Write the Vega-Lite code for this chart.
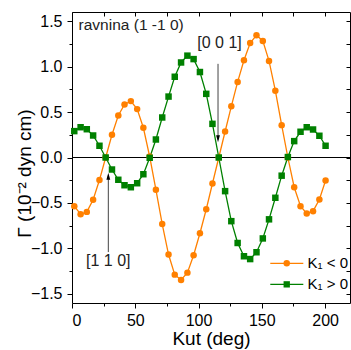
{
  "$schema": "https://vega.github.io/schema/vega-lite/v6.json",
  "width": 278,
  "height": 291,
  "autosize": {"type": "none"},
  "padding": {"left": 72, "top": 12, "right": 1, "bottom": 47},
  "config": {
    "font": "Liberation Sans",
    "view": {"stroke": null},
    "axis": {"grid": false, "domainColor": "black", "tickColor": "black", "labelColor": "black", "titleColor": "black", "domainWidth": 1, "tickWidth": 1, "labelFont": "Liberation Sans", "titleFont": "Liberation Sans"}
  },
  "datasets": {
    "main": [
      {"deg": 1.8, "val": -0.535, "s": "K₁ < 0"},
      {"deg": 6.8, "val": -0.624, "s": "K₁ < 0"},
      {"deg": 11.7, "val": -0.598, "s": "K₁ < 0"},
      {"deg": 16.7, "val": -0.464, "s": "K₁ < 0"},
      {"deg": 21.7, "val": -0.248, "s": "K₁ < 0"},
      {"deg": 26.6, "val": 0.0, "s": "K₁ < 0"},
      {"deg": 31.6, "val": 0.25, "s": "K₁ < 0"},
      {"deg": 36.6, "val": 0.462, "s": "K₁ < 0"},
      {"deg": 41.5, "val": 0.583, "s": "K₁ < 0"},
      {"deg": 46.5, "val": 0.62, "s": "K₁ < 0"},
      {"deg": 51.5, "val": 0.532, "s": "K₁ < 0"},
      {"deg": 56.4, "val": 0.327, "s": "K₁ < 0"},
      {"deg": 61.4, "val": 0.01, "s": "K₁ < 0"},
      {"deg": 66.3, "val": -0.354, "s": "K₁ < 0"},
      {"deg": 71.3, "val": -0.732, "s": "K₁ < 0"},
      {"deg": 76.3, "val": -1.067, "s": "K₁ < 0"},
      {"deg": 81.2, "val": -1.288, "s": "K₁ < 0"},
      {"deg": 86.2, "val": -1.346, "s": "K₁ < 0"},
      {"deg": 91.2, "val": -1.266, "s": "K₁ < 0"},
      {"deg": 96.1, "val": -1.075, "s": "K₁ < 0"},
      {"deg": 101.1, "val": -0.833, "s": "K₁ < 0"},
      {"deg": 106.1, "val": -0.569, "s": "K₁ < 0"},
      {"deg": 111.0, "val": -0.286, "s": "K₁ < 0"},
      {"deg": 116.0, "val": 0.0, "s": "K₁ < 0"},
      {"deg": 121.0, "val": 0.286, "s": "K₁ < 0"},
      {"deg": 125.9, "val": 0.563, "s": "K₁ < 0"},
      {"deg": 130.9, "val": 0.831, "s": "K₁ < 0"},
      {"deg": 135.9, "val": 1.07, "s": "K₁ < 0"},
      {"deg": 140.8, "val": 1.258, "s": "K₁ < 0"},
      {"deg": 145.8, "val": 1.345, "s": "K₁ < 0"},
      {"deg": 150.8, "val": 1.282, "s": "K₁ < 0"},
      {"deg": 155.7, "val": 1.062, "s": "K₁ < 0"},
      {"deg": 160.7, "val": 0.735, "s": "K₁ < 0"},
      {"deg": 165.7, "val": 0.356, "s": "K₁ < 0"},
      {"deg": 170.6, "val": 0.0, "s": "K₁ < 0"},
      {"deg": 175.6, "val": -0.327, "s": "K₁ < 0"},
      {"deg": 180.6, "val": -0.536, "s": "K₁ < 0"},
      {"deg": 185.5, "val": -0.616, "s": "K₁ < 0"},
      {"deg": 190.5, "val": -0.59, "s": "K₁ < 0"},
      {"deg": 195.5, "val": -0.462, "s": "K₁ < 0"},
      {"deg": 200.4, "val": -0.253, "s": "K₁ < 0"},
      {"deg": 1.8, "val": 0.29, "s": "K₁ > 0"},
      {"deg": 6.8, "val": 0.333, "s": "K₁ > 0"},
      {"deg": 11.7, "val": 0.311, "s": "K₁ > 0"},
      {"deg": 16.7, "val": 0.242, "s": "K₁ > 0"},
      {"deg": 21.7, "val": 0.129, "s": "K₁ > 0"},
      {"deg": 26.6, "val": 0.0, "s": "K₁ > 0"},
      {"deg": 31.6, "val": -0.132, "s": "K₁ > 0"},
      {"deg": 36.6, "val": -0.245, "s": "K₁ > 0"},
      {"deg": 41.5, "val": -0.305, "s": "K₁ > 0"},
      {"deg": 46.5, "val": -0.327, "s": "K₁ > 0"},
      {"deg": 51.5, "val": -0.283, "s": "K₁ > 0"},
      {"deg": 56.4, "val": -0.184, "s": "K₁ > 0"},
      {"deg": 61.4, "val": -0.003, "s": "K₁ > 0"},
      {"deg": 66.3, "val": 0.198, "s": "K₁ > 0"},
      {"deg": 71.3, "val": 0.44, "s": "K₁ > 0"},
      {"deg": 76.3, "val": 0.67, "s": "K₁ > 0"},
      {"deg": 81.2, "val": 0.888, "s": "K₁ > 0"},
      {"deg": 86.2, "val": 1.045, "s": "K₁ > 0"},
      {"deg": 91.2, "val": 1.12, "s": "K₁ > 0"},
      {"deg": 96.1, "val": 1.082, "s": "K₁ > 0"},
      {"deg": 101.1, "val": 0.94, "s": "K₁ > 0"},
      {"deg": 106.1, "val": 0.70, "s": "K₁ > 0"},
      {"deg": 111.0, "val": 0.37, "s": "K₁ > 0"},
      {"deg": 116.0, "val": 0.0, "s": "K₁ > 0"},
      {"deg": 121.0, "val": -0.37, "s": "K₁ > 0"},
      {"deg": 125.9, "val": -0.70, "s": "K₁ > 0"},
      {"deg": 130.9, "val": -0.94, "s": "K₁ > 0"},
      {"deg": 135.9, "val": -1.086, "s": "K₁ > 0"},
      {"deg": 140.8, "val": -1.117, "s": "K₁ > 0"},
      {"deg": 145.8, "val": -1.042, "s": "K₁ > 0"},
      {"deg": 150.8, "val": -0.89, "s": "K₁ > 0"},
      {"deg": 155.7, "val": -0.68, "s": "K₁ > 0"},
      {"deg": 160.7, "val": -0.443, "s": "K₁ > 0"},
      {"deg": 165.7, "val": -0.20, "s": "K₁ > 0"},
      {"deg": 170.6, "val": 0.005, "s": "K₁ > 0"},
      {"deg": 175.6, "val": 0.18, "s": "K₁ > 0"},
      {"deg": 180.6, "val": 0.283, "s": "K₁ > 0"},
      {"deg": 185.5, "val": 0.333, "s": "K₁ > 0"},
      {"deg": 190.5, "val": 0.308, "s": "K₁ > 0"},
      {"deg": 195.5, "val": 0.239, "s": "K₁ > 0"},
      {"deg": 200.4, "val": 0.129, "s": "K₁ > 0"}
    ]
  },
  "layer": [
    {
      "data": {"values": [{}]},
      "mark": {"type": "rule", "color": "black", "strokeWidth": 1},
      "encoding": {
        "x": {"datum": 0, "type": "quantitative", "scale": {"domain": [0, 219.7], "nice": false, "zero": false},
              "axis": {"orient": "top", "values": [0, 25, 50, 75, 100, 125, 150, 175, 200], "tickSize": -4, "labels": false, "title": null, "domain": true}},
        "x2": {"datum": 219.7},
        "y": {"datum": 0, "type": "quantitative", "scale": {"domain": [-1.6, 1.6], "nice": false, "zero": false},
              "axis": {"orient": "right", "values": [-1.5, -1.25, -1, -0.75, -0.5, -0.25, 0, 0.25, 0.5, 0.75, 1, 1.25, 1.5], "tickSize": -4, "labels": false, "title": null, "domain": true}}
      }
    },
    {
      "data": {"name": "main"},
      "mark": {"type": "line", "strokeWidth": 1.3},
      "encoding": {
        "x": {"field": "deg", "type": "quantitative",
              "axis": {"orient": "bottom", "values": [0, 50, 100, 150, 200], "tickSize": 5, "labelFontSize": 16, "labelPadding": 4, "title": "Kut (deg)", "titleFontSize": 19, "titleFontWeight": "normal", "titlePadding": 1}},
        "y": {"field": "val", "type": "quantitative",
              "axis": {"orient": "left", "values": [-1.5, -1, -0.5, 0, 0.5, 1, 1.5], "format": ".1f", "tickSize": 5, "labelFontSize": 16, "labelPadding": 5, "title": "Γ (10⁻² dyn cm)", "titleFontSize": 19, "titleFontWeight": "normal", "titleX": -38, "titleY": 161}},
        "color": {"field": "s", "type": "nominal", "scale": {"domain": ["K₁ < 0", "K₁ > 0"], "range": ["#FF8000", "#008000"]}, "legend": null}
      }
    },
    {
      "data": {"name": "main"},
      "mark": {"type": "point", "filled": true, "opacity": 1, "size": 42},
      "encoding": {
        "x": {"field": "deg", "type": "quantitative", "axis": null},
        "y": {"field": "val", "type": "quantitative", "axis": null},
        "color": {"field": "s", "type": "nominal", "legend": null},
        "shape": {"field": "s", "type": "nominal", "scale": {"domain": ["K₁ < 0", "K₁ > 0"], "range": ["circle", "square"]}, "legend": null}
      }
    },
    {
      "data": {"values": [{}]},
      "mark": {"type": "rule", "color": "#444", "strokeWidth": 1},
      "encoding": {
        "x": {"datum": 28.7, "type": "quantitative",
              "axis": {"orient": "bottom", "values": [25, 75, 125, 175], "tickSize": 3, "labels": false, "domain": false, "title": null}},
        "y": {"datum": -1.04, "type": "quantitative",
              "axis": {"orient": "left", "values": [-1.25, -0.75, -0.25, 0.25, 0.75, 1.25], "tickSize": 3, "labels": false, "domain": false, "title": null}},
        "y2": {"datum": -0.2}
      }
    },
    {
      "data": {"values": [{}]},
      "mark": {"type": "rule", "color": "#444", "strokeWidth": 1},
      "encoding": {
        "x": {"datum": 115.4, "type": "quantitative", "axis": null},
        "y": {"datum": 1.03, "type": "quantitative", "axis": null},
        "y2": {"datum": 0.2}
      }
    },
    {
      "data": {"values": [{}]},
      "mark": {"type": "point", "shape": "M0,-1L0.55,1L-0.55,1Z", "filled": true, "color": "black", "size": 49, "opacity": 1},
      "encoding": {
        "x": {"datum": 28.7, "type": "quantitative", "axis": null},
        "y": {"datum": -0.205, "type": "quantitative", "axis": null}
      }
    },
    {
      "data": {"values": [{}]},
      "mark": {"type": "point", "shape": "M0,1L0.55,-1L-0.55,-1Z", "filled": true, "color": "black", "size": 49, "opacity": 1},
      "encoding": {
        "x": {"datum": 115.4, "type": "quantitative", "axis": null},
        "y": {"datum": 0.205, "type": "quantitative", "axis": null}
      }
    },
    {
      "data": {"values": [{}]},
      "mark": {"type": "text", "text": "[1 1 0]", "font": "Liberation Sans", "fontSize": 16, "color": "#222", "align": "center", "baseline": "middle"},
      "encoding": {
        "x": {"datum": 28.7, "type": "quantitative", "axis": null},
        "y": {"datum": -1.137, "type": "quantitative", "axis": null}
      }
    },
    {
      "data": {"values": [{}]},
      "mark": {"type": "text", "text": "[0 0 1]", "font": "Liberation Sans", "fontSize": 16, "color": "#222", "align": "center", "baseline": "middle"},
      "encoding": {
        "x": {"datum": 116.6, "type": "quantitative", "axis": null},
        "y": {"datum": 1.255, "type": "quantitative", "axis": null}
      }
    },
    {
      "data": {"values": [{}]},
      "mark": {"type": "text", "text": "ravnina (1 -1 0)", "font": "Liberation Sans", "fontSize": 15.5, "color": "#222", "align": "left", "baseline": "middle"},
      "encoding": {
        "x": {"datum": 5.2, "type": "quantitative", "axis": null},
        "y": {"datum": 1.457, "type": "quantitative", "axis": null}
      }
    },
    {
      "data": {"values": [{}]},
      "mark": {"type": "rule", "color": "#FF8000", "strokeWidth": 1.3},
      "encoding": {
        "x": {"datum": 156.7, "type": "quantitative", "axis": null},
        "x2": {"datum": 182.8},
        "y": {"datum": -1.164, "type": "quantitative", "axis": null}
      }
    },
    {
      "data": {"values": [{}]},
      "mark": {"type": "point", "shape": "circle", "filled": true, "color": "#FF8000", "size": 42, "opacity": 1},
      "encoding": {
        "x": {"datum": 169.7, "type": "quantitative", "axis": null},
        "y": {"datum": -1.164, "type": "quantitative", "axis": null}
      }
    },
    {
      "data": {"values": [{}]},
      "mark": {"type": "text", "text": "K₁ < 0", "font": "Liberation Sans", "fontSize": 15, "color": "black", "align": "left", "baseline": "middle"},
      "encoding": {
        "x": {"datum": 186.2, "type": "quantitative", "axis": null},
        "y": {"datum": -1.164, "type": "quantitative", "axis": null}
      }
    },
    {
      "data": {"values": [{}]},
      "mark": {"type": "rule", "color": "#008000", "strokeWidth": 1.3},
      "encoding": {
        "x": {"datum": 156.7, "type": "quantitative", "axis": null},
        "x2": {"datum": 182.8},
        "y": {"datum": -1.395, "type": "quantitative", "axis": null}
      }
    },
    {
      "data": {"values": [{}]},
      "mark": {"type": "point", "shape": "square", "filled": true, "color": "#008000", "size": 40, "opacity": 1},
      "encoding": {
        "x": {"datum": 169.7, "type": "quantitative", "axis": null},
        "y": {"datum": -1.395, "type": "quantitative", "axis": null}
      }
    },
    {
      "data": {"values": [{}]},
      "mark": {"type": "text", "text": "K₁ > 0", "font": "Liberation Sans", "fontSize": 15, "color": "black", "align": "left", "baseline": "middle"},
      "encoding": {
        "x": {"datum": 186.2, "type": "quantitative", "axis": null},
        "y": {"datum": -1.395, "type": "quantitative", "axis": null}
      }
    }
  ],
  "resolve": {"axis": {"x": "independent", "y": "independent"}}
}
